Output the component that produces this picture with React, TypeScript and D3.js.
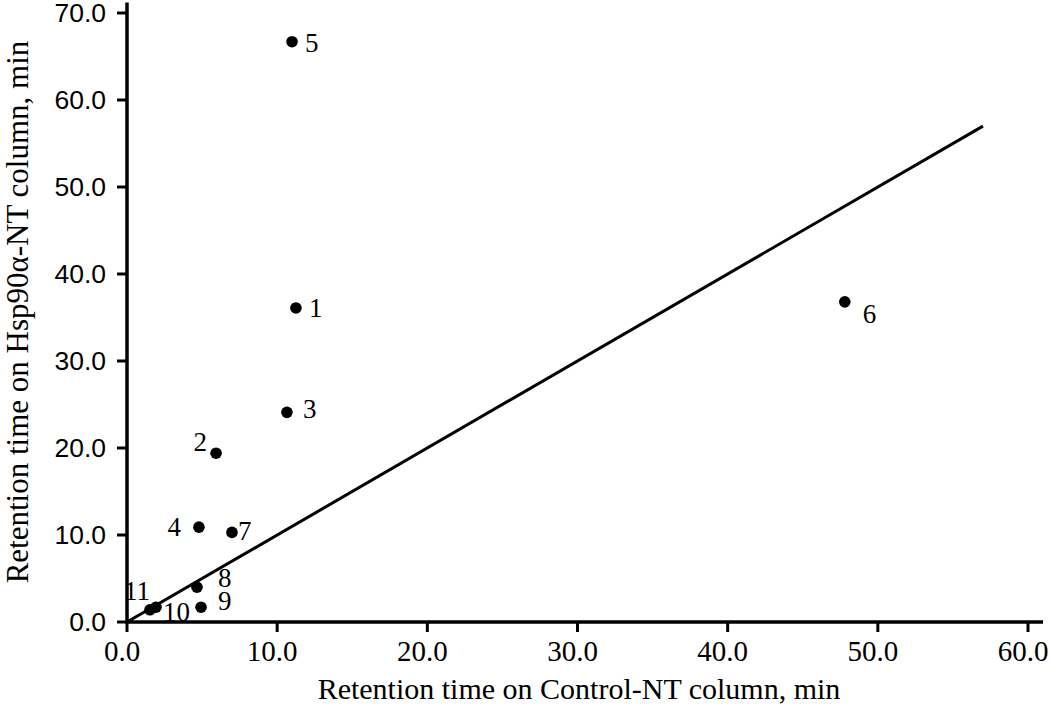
import React from "react";
import * as d3 from "d3";

const pointIds = ["1", "2", "3", "4", "5", "6", "7", "8", "9", "10", "11"];
const controlTimes = [11.25, 5.93, 10.65, 4.79, 10.99, 47.8, 6.99, 4.66, 4.93, 1.93, 1.53];
const hspTimes = [36.1, 19.4, 24.1, 10.9, 66.7, 36.8, 10.3, 4.0, 1.7, 1.7, 1.4];
// label placement relative to point (pixels): dx, dy, anchor
const labelDx = [13, -9, 16, -18, 13, 18, 6, 21, 17, 7, 0];
const labelDy = [9, -2, 6, 9, 10, 21, 8, 0, 3, 14, -10];
const labelAnchor = ["start", "end", "start", "end", "start", "start", "start", "start", "start", "start", "end"];

const xTicks = [0, 10, 20, 30, 40, 50, 60];
const yTicks = [0, 10, 20, 30, 40, 50, 60, 70];
const identityLine = [0, 57];

const SERIF = "'Liberation Serif', 'Times New Roman', serif";
const SANS = "'Liberation Sans', Arial, sans-serif";

export default function App() {
  const W = 1050, H = 707;
  const x = d3.scaleLinear().domain([0, 60]).range([127, 1028]);
  const y = d3.scaleLinear().domain([0, 70]).range([622, 13]);
  const line = d3.line<number>().x((d) => x(d)).y((d) => y(d));
  const fmt = d3.format(".1f");

  return (
    <svg width={W} height={H} style={{ position: "absolute", left: 0, top: 0, background: "#fff" }}>
      {/* axes */}
      <line x1={x(0)} x2={x(61)} y1={y(0)} y2={y(0)} stroke="#000" strokeWidth={3.5} />
      <line x1={x(0)} x2={x(0)} y1={y(0) + 1.5} y2={y(71.2)} stroke="#000" strokeWidth={3.5} />
      {xTicks.map((t) => (
        <g key={"x" + t}>
          <line x1={x(t)} x2={x(t)} y1={y(0)} y2={y(0) + 10} stroke="#000" strokeWidth={3} />
          <text x={x(t) - 5} y={y(0) + 39} textAnchor="middle" fontFamily={SERIF} fontSize={29} fill="#000">
            {fmt(t)}
          </text>
        </g>
      ))}
      {yTicks.map((t) => (
        <g key={"y" + t}>
          <line x1={x(0) - 10} x2={x(0)} y1={y(t)} y2={y(t)} stroke="#000" strokeWidth={3} />
          <text x={x(0) - 21} y={y(t) + 9} textAnchor="end" fontFamily={SANS} fontSize={26.5} fill="#000">
            {fmt(t)}
          </text>
        </g>
      ))}
      {/* identity line */}
      <path d={line(identityLine) || ""} stroke="#000" strokeWidth={3} fill="none" />
      {/* points */}
      {pointIds.map((id, i) => (
        <g key={"p" + id}>
          <circle cx={x(controlTimes[i])} cy={y(hspTimes[i])} r={5.8} fill="#000" />
          <text
            x={x(controlTimes[i]) + labelDx[i]}
            y={y(hspTimes[i]) + labelDy[i]}
            textAnchor={labelAnchor[i] as any}
            fontFamily={SERIF}
            fontSize={27}
            fill="#000"
          >
            {id}
          </text>
        </g>
      ))}
      {/* axis titles */}
      <text x={579} y={699} textAnchor="middle" fontFamily={SERIF} fontSize={30} fill="#000">
        Retention time on Control-NT column, min
      </text>
      <text
        transform={`translate(28, 312) rotate(-90)`}
        textAnchor="middle"
        fontFamily={SERIF}
        fontSize={31}
        fill="#000"
      >
        Retention time on Hsp90α-NT column, min
      </text>
    </svg>
  );
}
